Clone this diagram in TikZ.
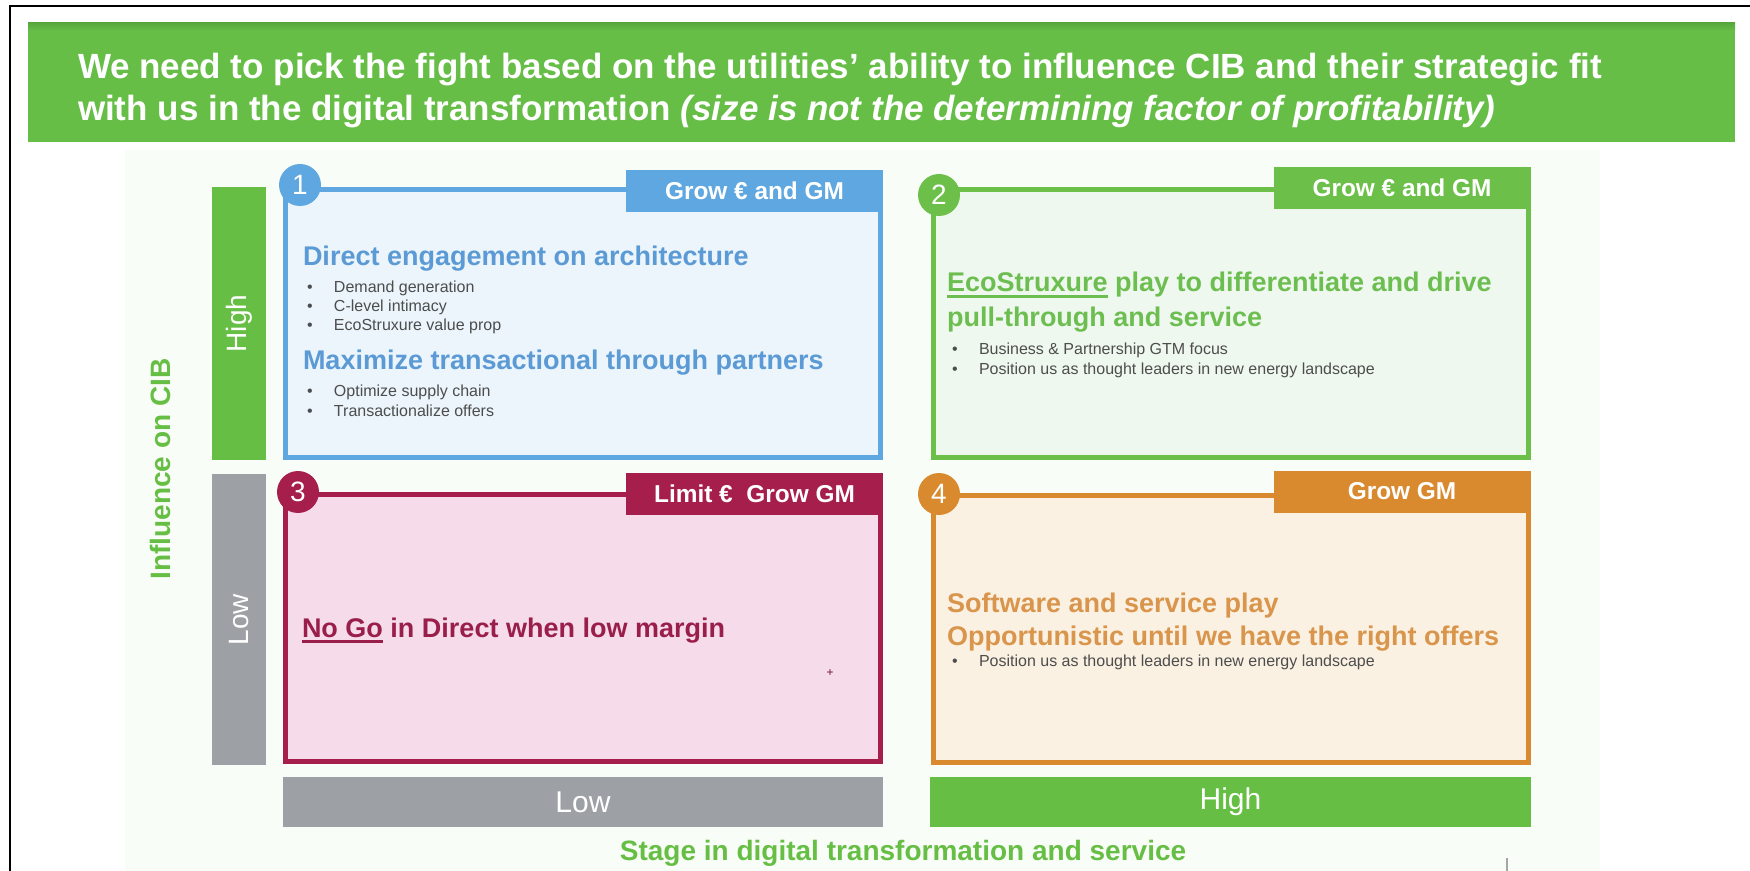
\documentclass[tikz,border=0pt]{standalone}
\usepackage{fontspec}
\setmainfont{Liberation Sans}
\definecolor{hdrgreen}{HTML}{66BE46}
\definecolor{hdrshade}{HTML}{58A83D}
\definecolor{slidebg}{HTML}{F9FDF8}
\definecolor{axgreen}{HTML}{66BF44}
\definecolor{axgray}{HTML}{9DA1A6}
\definecolor{qblue}{HTML}{5FA7E0}
\definecolor{qbluefill}{HTML}{EBF5FB}
\definecolor{qbluetext}{HTML}{5B9AD4}
\definecolor{qgreen}{HTML}{6CC04A}
\definecolor{qgreenfill}{HTML}{EFF8EE}
\definecolor{qgreentext}{HTML}{6DBE51}
\definecolor{qred}{HTML}{A51E4C}
\definecolor{qredfill}{HTML}{F6DCEB}
\definecolor{qredtext}{HTML}{9A1E4A}
\definecolor{qorange}{HTML}{D98A2E}
\definecolor{qorangefill}{HTML}{FAF1E2}
\definecolor{qorangetext}{HTML}{D9954B}
\definecolor{bultext}{HTML}{4D4D4D}
% bullet line: small dot, then the text after a fixed indent
\newcommand\bitem[1]{\makebox[13.5pt][l]{\textbullet}#1}
% heavy underline in the colour of the surrounding text
\newcommand\thickul[1]{\setbox0=\hbox{#1}\rlap{\rule[-3pt]{\wd0}{1.5pt}}\box0\relax}
\begin{document}
\begin{tikzpicture}[x=0.5pt,y=-0.5pt,
  every node/.style={inner sep=0pt, outer sep=0pt},
  quad/.style={draw, line width=2.5pt, minimum width=297.5pt, minimum height=134pt},
  tagbox/.style={minimum width=128.5pt, minimum height=21pt, text=white,
    font=\bfseries\fontsize{12.2}{14}\selectfont},
  numdisc/.style={circle, minimum size=21pt, text=white, font=\fontsize{14}{16}\selectfont},
  head/.style={anchor=base west, font=\bfseries\fontsize{13.5}{16}\selectfont},
  bul/.style={anchor=base west, text=bultext, font=\fontsize{8}{9.6}\selectfont},
  axisbar/.style={minimum width=27pt, text=white},
  scalebar/.style={minimum width=300pt, minimum height=25pt, text=white,
    font=\fontsize{15}{18}\selectfont},
  title/.style={anchor=base west, text=white, font=\bfseries\fontsize{17.5}{21}\selectfont},
]
\useasboundingbox (0,0) rectangle (1750,871);
\fill[white] (0,0) rectangle (1750,871);
% page frame
\draw[black, line width=1.2pt] (10,871) -- (10,6) -- (1750,6);
% slide area
\fill[slidebg] (125,150) rectangle (1600,871);

% title banner
\node[fill=hdrgreen, minimum width=853.5pt, minimum height=59.5pt, anchor=north west] (banner) at (28,23) {};
\shade[top color=hdrshade, bottom color=hdrgreen] (28,23) rectangle (1735,31);
\node[title] (t1) at (78,79) {We need to pick the fight based on the utilities’ ability to influence CIB and their strategic fit};
\node[title] (t2) at (78,121) {with us in the digital transformation \textit{(size is not the determining factor of profitability)}};

% vertical axis
\node[axisbar, fill=axgreen, minimum height=136.5pt] (yhigh) at (239,323.5) {};
\node[rotate=90, text=white, font=\fontsize{14}{16}\selectfont] (yhighlbl) at (yhigh) {High};
\node[axisbar, fill=axgray, minimum height=145.5pt] (ylow) at (239,619.5) {};
\node[rotate=90, text=white, font=\fontsize{14}{16}\selectfont] (ylowlbl) at (ylow) {Low};
\node[rotate=90, text=axgreen, font=\bfseries\fontsize{14}{16}\selectfont] (yaxis) at (160,469) {Influence on CIB};

% quadrant frames
\node[quad, draw=qblue, fill=qbluefill] (q1) at (583,323.5) {};
\node[quad, draw=qgreen, fill=qgreenfill] (q2) at (1230.5,323.5) {};
\node[quad, draw=qred, fill=qredfill, minimum height=133.5pt] (q3) at (583,628) {};
\node[quad, draw=qorange, fill=qorangefill, minimum height=133.5pt] (q4) at (1230.5,628.5) {};

% tags
\node[tagbox, fill=qblue] (g1) at (754.5,191) {Grow € and GM};
\node[tagbox, fill=qgreen] (g2) at (1402,188) {Grow € and GM};
\node[tagbox, fill=qred] (g3) at (754.5,494) {Limit €~~Grow GM};
\node[tagbox, fill=qorange] (g4) at (1402,491.5) {Grow GM};

% numbered discs
\node[numdisc, fill=qblue] (n1) at (300,185) {1};
\node[numdisc, fill=qgreen] (n2) at (939,195) {2};
\node[numdisc, fill=qred] (n3) at (298,492) {3};
\node[numdisc, fill=qorange] (n4) at (939,494) {4};

% quadrant 1
\node[head, text=qbluetext] (h1a) at (303,266) {Direct engagement on architecture};
\node[bul] (b1a) at (307,293) {\bitem{Demand generation}};
\node[bul] (b1b) at (307,312) {\bitem{C-level intimacy}};
\node[bul] (b1c) at (307,331) {\bitem{EcoStruxure value prop}};
\node[head, text=qbluetext] (h1b) at (303,370) {Maximize transactional through partners};
\node[bul] (b1d) at (307,397) {\bitem{Optimize supply chain}};
\node[bul] (b1e) at (307,416) {\bitem{Transactionalize offers}};

% quadrant 2
\node[head, text=qgreentext] (h2a) at (947,292) {\thickul{EcoStruxure} play to differentiate and drive};
\node[head, text=qgreentext] (h2b) at (947,327) {pull-through and service};
\node[bul] (b2a) at (952,355) {\bitem{Business \& Partnership GTM focus}};
\node[bul] (b2b) at (952,375) {\bitem{Position us as thought leaders in new energy landscape}};

% quadrant 3
\node[head, text=qredtext] (h3a) at (302,637) {\thickul{No Go} in Direct when low margin};
\node[text=qredtext!70!black, font=\fontsize{6}{7}\selectfont] (mk) at (830,673) {+};

% quadrant 4
\node[head, text=qorangetext] (h4a) at (947,612) {Software and service play};
\node[head, text=qorangetext] (h4b) at (947,645) {Opportunistic until we have the right offers};
\node[bul] (b4a) at (952,666) {\bitem{Position us as thought leaders in new energy landscape}};

% horizontal axis
\node[scalebar, fill=axgray] (xlow) at (583,802) {Low};
\node[scalebar, fill=axgreen, minimum width=300.5pt] (xhigh) at (1230.5,802) {High};
\node[anchor=base, text=axgreen, font=\bfseries\fontsize{14}{16}\selectfont] (xaxis) at (903,860) {Stage in digital transformation and service};
\draw[gray!70, line width=0.6pt] (1507,858) -- (1507,871);
\end{tikzpicture}
\end{document}
